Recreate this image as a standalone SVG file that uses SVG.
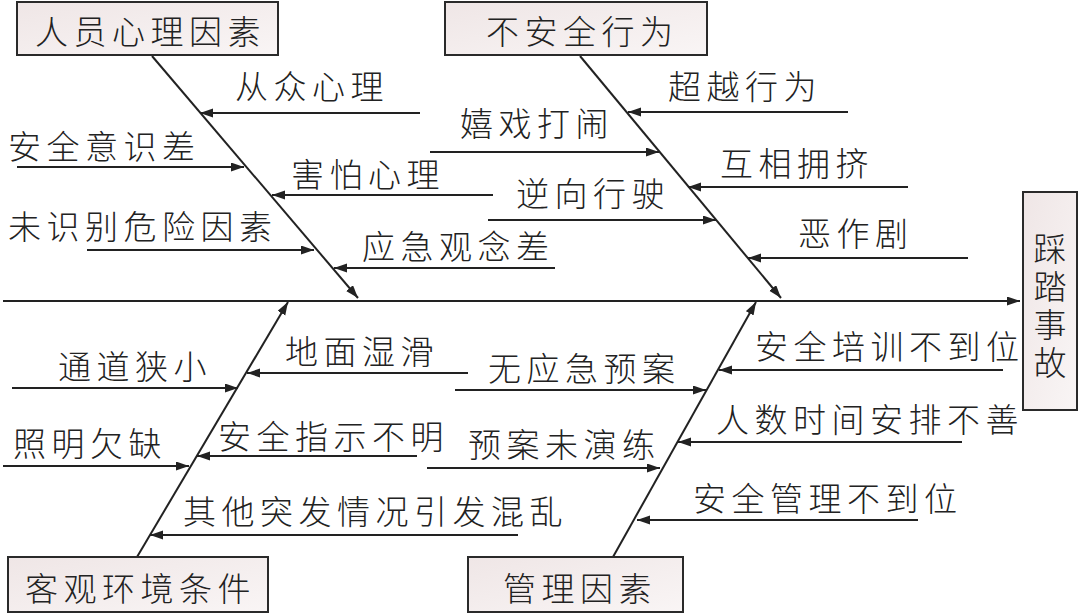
<svg xmlns="http://www.w3.org/2000/svg" width="1080" height="615" viewBox="0 0 1080 615">
<style>
.t{font-family:"Noto Sans CJK SC","Noto Sans CJK JP",sans-serif;font-size:33px;font-weight:300;fill:#222;letter-spacing:5.5px}
.v{font-family:"Noto Sans CJK SC","Noto Sans CJK JP",sans-serif;font-size:33px;font-weight:300;fill:#222;writing-mode:vertical-rl;letter-spacing:5px}
.box{fill:url(#g);stroke:#2a2a2a;stroke-width:2}
.ln{stroke:#222;stroke-width:2;fill:none;marker-end:url(#ah)}
</style>
<defs>
<linearGradient id="g" x1="0" y1="0" x2="1" y2="1">
<stop offset="0" stop-color="#efe6e6"/>
<stop offset="1" stop-color="#f9f5f5"/>
</linearGradient>
<marker id="ah" markerUnits="userSpaceOnUse" markerWidth="14" markerHeight="10" refX="13" refY="4.5" orient="auto">
<path d="M0,0 L13,4.5 L0,9 z" fill="#222"/>
</marker>
</defs>
<rect width="1080" height="615" fill="#fff"/>
<g id="connectors">
<line class="ln" x1="3" y1="301" x2="1020" y2="301"/>
<line class="ln" x1="152" y1="56" x2="358" y2="298"/>
<line class="ln" x1="580" y1="56" x2="781" y2="298"/>
<line class="ln" x1="137" y1="557" x2="288" y2="302"/>
<line class="ln" x1="613" y1="557" x2="756" y2="302"/>
<line class="ln" x1="420" y1="113" x2="200" y2="113"/>
<line class="ln" x1="17" y1="167" x2="244" y2="167"/>
<line class="ln" x1="493" y1="195" x2="272" y2="195"/>
<line class="ln" x1="87" y1="250" x2="314" y2="250"/>
<line class="ln" x1="555" y1="268" x2="334" y2="268"/>
<line class="ln" x1="848" y1="112" x2="628" y2="112"/>
<line class="ln" x1="430" y1="152" x2="659" y2="152"/>
<line class="ln" x1="908" y1="187" x2="688" y2="187"/>
<line class="ln" x1="488" y1="220" x2="716" y2="220"/>
<line class="ln" x1="968" y1="258" x2="748" y2="258"/>
<line class="ln" x1="468" y1="373" x2="247" y2="373"/>
<line class="ln" x1="12" y1="388" x2="238" y2="388"/>
<line class="ln" x1="417" y1="456" x2="197" y2="456"/>
<line class="ln" x1="3" y1="466" x2="189" y2="466"/>
<line class="ln" x1="518" y1="535" x2="150" y2="535"/>
<line class="ln" x1="1003" y1="370" x2="719" y2="370"/>
<line class="ln" x1="455" y1="390" x2="706" y2="390"/>
<line class="ln" x1="962" y1="442" x2="678" y2="442"/>
<line class="ln" x1="427" y1="468" x2="660" y2="468"/>
<line class="ln" x1="918" y1="520" x2="637" y2="520"/>
</g>
<g id="n-renyuan"><rect class="box" x="17" y="2" width="261" height="53"/><text class="t" x="35" y="44">人员心理因素</text></g>
<g id="n-buanquan"><rect class="box" x="445" y="2" width="262" height="53"/><text class="t" x="486" y="44">不安全行为</text></g>
<g id="n-keguan"><rect class="box" x="8" y="557" width="260" height="55"/><text class="t" x="25" y="601">客观环境条件</text></g>
<g id="n-guanli"><rect class="box" x="468" y="557" width="215" height="55"/><text class="t" x="503" y="601">管理因素</text></g>
<g id="n-shigu"><rect class="box" x="1023" y="192" width="54" height="218"/>
<text class="v" x="1050" y="232">踩踏事故</text></g>
<g id="labels">
<text class="t" x="235" y="99">从众心理</text>
<text class="t" x="8" y="159">安全意识差</text>
<text class="t" x="291" y="187">害怕心理</text>
<text class="t" x="8" y="239">未识别危险因素</text>
<text class="t" x="362" y="259">应急观念差</text>
<text class="t" x="668" y="99">超越行为</text>
<text class="t" x="460" y="136">嬉戏打闹</text>
<text class="t" x="720" y="176">互相拥挤</text>
<text class="t" x="516" y="206">逆向行驶</text>
<text class="t" x="798" y="246">恶作剧</text>
<text class="t" x="755" y="359">安全培训不到位</text>
<text class="t" x="285" y="364">地面湿滑</text>
<text class="t" x="58" y="379">通道狭小</text>
<text class="t" x="488" y="381">无应急预案</text>
<text class="t" x="716" y="432">人数时间安排不善</text>
<text class="t" x="218" y="449">安全指示不明</text>
<text class="t" x="13" y="456">照明欠缺</text>
<text class="t" x="468" y="457">预案未演练</text>
<text class="t" x="693" y="511">安全管理不到位</text>
<text class="t" x="183" y="524">其他突发情况引发混乱</text>
</g>
</svg>
